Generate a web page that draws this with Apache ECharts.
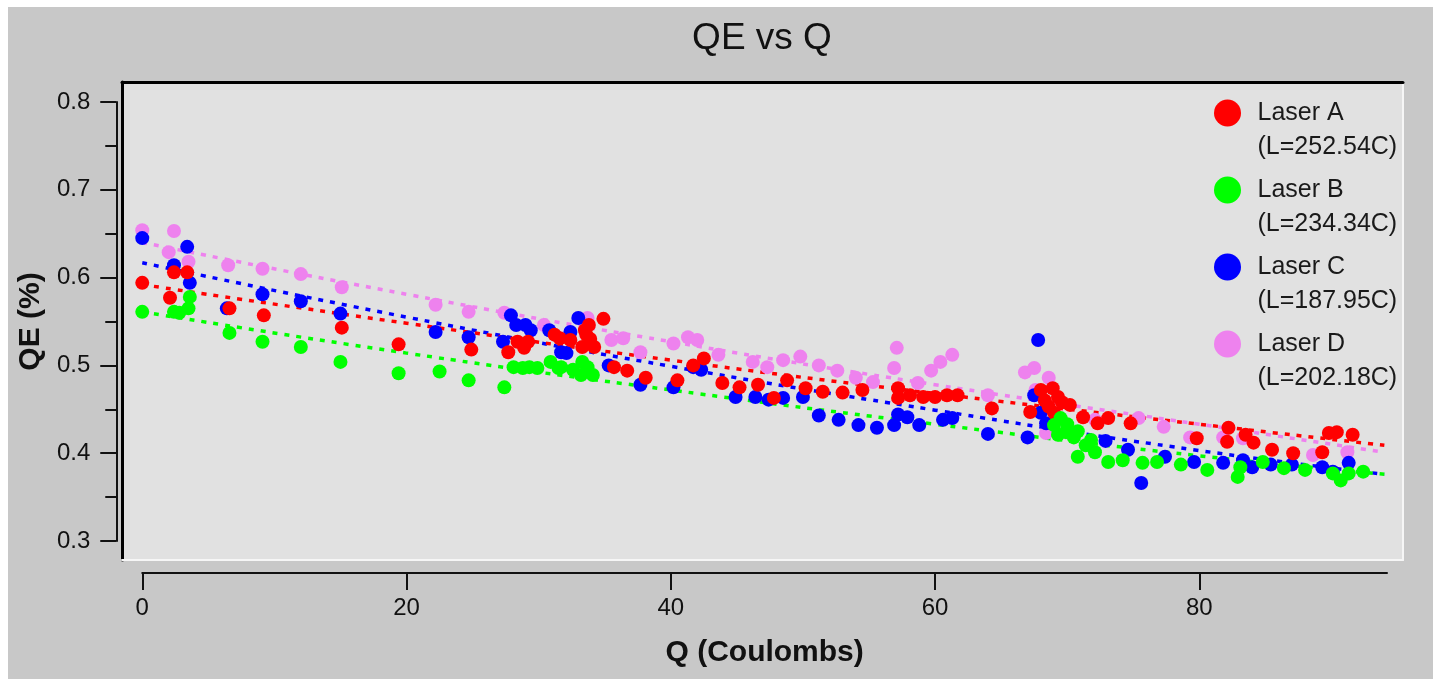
<!DOCTYPE html>
<html><head><meta charset="utf-8">
<script src="https://cdn.jsdelivr.net/npm/echarts@6/dist/echarts.min.js"></script>
<style>
html,body{margin:0;padding:0;background:#ffffff;width:1433px;height:679px;overflow:hidden}
#chart{position:absolute;left:8px;top:7px;width:1425px;height:672px;background:#c8c8c8}
</style>
</head><body><div id="chart"></div>
<script>
// ---- data ----
const seriesNames = ['Laser A', 'Laser B', 'Laser C', 'Laser D'];
const lifetimes = ['252.54', '234.34', '187.95', '202.18'];
const xTicks = [0, 20, 40, 60, 80];
const yTicks = [0.3, 0.4, 0.5, 0.6, 0.7, 0.8];

const laserA = [
  [0.0,0.594],[2.1,0.577],[2.4,0.606],[3.4,0.606],[6.6,0.565],[9.2,0.557],[15.1,0.543],[19.4,0.524],
  [24.9,0.518],[27.7,0.515],[28.4,0.527],[28.9,0.520],[29.2,0.527],[31.2,0.535],[31.6,0.531],[32.4,0.529],
  [33.3,0.521],[33.5,0.540],[33.6,0.535],[33.8,0.546],[33.9,0.530],[34.2,0.521],[34.9,0.553],[35.7,0.498],
  [36.7,0.494],[38.1,0.486],[40.5,0.483],[41.7,0.500],[42.5,0.508],[43.9,0.480],[45.2,0.475],[46.6,0.478],
  [47.8,0.463],[48.8,0.483],[50.2,0.474],[51.5,0.470],[53.0,0.469],[54.5,0.472],[57.2,0.474],[57.2,0.463],
  [58.1,0.466],[59.1,0.464],[60.0,0.464],[60.9,0.466],[61.7,0.466],[64.3,0.451],[67.2,0.447],[68.0,0.472],
  [68.3,0.460],[68.6,0.453],[68.9,0.474],[69.0,0.446],[69.3,0.464],[69.6,0.458],[70.2,0.455],[71.2,0.441],
  [72.3,0.434],[73.1,0.440],[74.8,0.434],[79.8,0.417],[82.1,0.413],[82.2,0.429],[83.5,0.421],[84.1,0.412],
  [85.5,0.404],[87.1,0.400],[89.3,0.401],[89.8,0.423],[90.4,0.424],[91.6,0.421]
];
const laserB = [
  [0.0,0.561],[2.4,0.561],[2.8,0.560],[3.5,0.565],[3.6,0.578],[6.6,0.537],[9.1,0.527],[12.0,0.521],
  [15.0,0.504],[19.4,0.491],[22.5,0.493],[24.7,0.483],[27.4,0.475],[28.1,0.498],[28.8,0.497],[29.3,0.498],
  [29.9,0.497],[30.9,0.504],[31.5,0.497],[31.7,0.498],[32.6,0.495],[33.2,0.489],[33.3,0.504],[33.7,0.498],
  [34.1,0.489],[69.0,0.432],[69.3,0.421],[69.5,0.440],[69.9,0.424],[70.0,0.433],[70.5,0.418],[70.8,0.425],
  [70.8,0.396],[71.4,0.409],[71.8,0.415],[72.1,0.401],[73.1,0.390],[74.2,0.392],[75.7,0.389],[76.8,0.390],
  [78.6,0.387],[80.6,0.381],[82.9,0.373],[83.1,0.384],[84.8,0.390],[86.4,0.383],[88.0,0.381],[90.1,0.377],
  [90.7,0.369],[91.3,0.377],[92.4,0.379]
];
const laserC = [
  [0.0,0.645],[2.4,0.614],[3.4,0.635],[3.6,0.594],[6.4,0.565],[9.1,0.581],[12.0,0.573],[15.0,0.559],
  [22.2,0.538],[24.7,0.532],[27.3,0.527],[27.9,0.557],[28.3,0.546],[29.0,0.546],[29.4,0.540],[30.8,0.540],
  [31.7,0.515],[32.1,0.514],[32.4,0.538],[33.0,0.554],[35.3,0.500],[37.7,0.478],[40.2,0.475],[41.7,0.498],
  [42.3,0.495],[44.9,0.464],[46.4,0.464],[47.4,0.461],[48.5,0.463],[50.0,0.464],[51.2,0.443],[52.7,0.438],
  [54.2,0.432],[55.6,0.429],[56.9,0.432],[57.2,0.444],[57.9,0.441],[58.8,0.432],[60.6,0.438],[61.3,0.440],
  [64.0,0.422],[67.0,0.418],[67.5,0.466],[67.8,0.529],[68.0,0.446],[68.4,0.434],[72.9,0.414],[74.6,0.404],
  [75.6,0.366],[77.4,0.396],[79.6,0.390],[81.8,0.389],[83.3,0.392],[84.0,0.384],[85.4,0.387],[87.0,0.387],
  [89.3,0.384],[90.1,0.379],[91.3,0.389]
];
const laserD = [
  [0.0,0.654],[2.0,0.629],[2.4,0.653],[3.5,0.618],[6.5,0.614],[9.1,0.610],[12.0,0.604],[15.1,0.589],
  [22.2,0.569],[24.7,0.561],[27.4,0.560],[30.4,0.546],[33.7,0.554],[35.5,0.529],[36.4,0.531],[37.7,0.515],
  [40.2,0.525],[41.3,0.532],[42.0,0.529],[43.6,0.512],[46.2,0.504],[47.3,0.498],[48.5,0.506],[49.8,0.510],
  [51.2,0.500],[52.6,0.494],[54.0,0.486],[55.3,0.481],[56.9,0.497],[57.1,0.520],[58.7,0.480],[59.7,0.494],
  [60.4,0.504],[61.3,0.512],[64.0,0.466],[66.8,0.492],[67.5,0.497],[67.6,0.472],[68.4,0.423],[68.6,0.486],
  [72.1,0.438],[75.4,0.440],[77.3,0.430],[79.3,0.418],[81.8,0.418],[83.3,0.417],[88.6,0.398],[91.2,0.401]
];

// dotted fit curves, values at these Q positions
const fitQ = [0, 20, 40, 60, 80, 94];
const fitA = [0.592, 0.548, 0.506, 0.468, 0.433, 0.409];
const fitB = [0.561, 0.514, 0.472, 0.433, 0.397, 0.376];
const fitC = [0.617, 0.555, 0.499, 0.449, 0.403, 0.376];
const fitD = [0.640, 0.581, 0.527, 0.478, 0.433, 0.401];

// ---- styling ----
const colors = ['#ff0000', '#00ff00', '#0000ff', '#ee82ee'];
const FONT = "'Liberation Sans', Arial, Helvetica, sans-serif";
const INK = '#111111';

const points = [laserA, laserB, laserC, laserD];
const fits = [fitA, fitB, fitC, fitD];
const drawOrder = [3, 2, 0, 1]; // pink under, green on top

const series = [];
drawOrder.forEach((i, k) => {
  series.push({
    type: 'scatter', name: seriesNames[i], xAxisIndex: 2, yAxisIndex: 2,
    data: points[i], symbol: 'circle', symbolSize: 14, clip: false,
    itemStyle: { color: colors[i], opacity: 1 }, z: 3, zlevel: 0
  });
});
drawOrder.forEach(i => {
  series.push({
    type: 'line', name: seriesNames[i], xAxisIndex: 2, yAxisIndex: 2,
    data: fitQ.map((q, k) => [q, fits[i][k]]), smooth: true, showSymbol: false, clip: false,
    lineStyle: { color: colors[i], width: 3.5, type: [5, 7], cap: 'butt' },
    itemStyle: { color: colors[i] }, z: 2
  });
});

const hiddenAxis = (pos, color, width) => ({
  type: 'value', gridIndex: 0, position: pos, min: 0, max: 1,
  axisLine: { show: true, onZero: false, lineStyle: { color: color, width: width } },
  axisTick: { show: false }, axisLabel: { show: false }, splitLine: { show: false }
});

const option = {
  animation: false,
  backgroundColor: '#c8c8c8',
  textStyle: { fontFamily: FONT },
  title: {
    text: 'QE vs Q', left: 754, top: 13, padding: 0, textAlign: 'center',
    textStyle: { fontFamily: FONT, fontSize: 37, fontWeight: 'normal', color: INK }
  },
  legend: {
    data: seriesNames, orient: 'vertical', left: 1206, top: 55, padding: 0,
    icon: 'circle', itemWidth: 50, itemHeight: 27, itemGap: -25, selectedMode: false,
    formatter: name => ' \n' + name + '\n(L=' + lifetimes[seriesNames.indexOf(name)] + 'C)',
    textStyle: { fontFamily: FONT, fontSize: 25, lineHeight: 34, color: '#1a1a1a' }
  },
  grid: [
    { left: 114, top: 75, width: 1281, height: 478, show: true, backgroundColor: '#e1e1e1', borderWidth: 0 },
    { left: 133, top: 95, width: 1246, height: 439, show: false }
  ],
  xAxis: [
    hiddenAxis('top', '#000000', 3),
    hiddenAxis('bottom', '#f6f6f6', 2),
    {
      type: 'value', gridIndex: 1, position: 'bottom', offset: 32, min: 0, max: 94.2,
      name: 'Q (Coulombs)', nameLocation: 'middle', nameGap: 65,
      nameTextStyle: { fontFamily: FONT, fontSize: 30, fontWeight: 'bold', color: INK },
      axisLine: { show: true, onZero: false, lineStyle: { color: INK, width: 2 } },
      axisTick: { show: true, inside: false, length: 17, customValues: xTicks, lineStyle: { color: INK, width: 2 } },
      axisLabel: { show: true, margin: 23, customValues: xTicks, fontFamily: FONT, fontSize: 24, color: INK },
      splitLine: { show: false }
    }
  ],
  yAxis: [
    hiddenAxis('left', '#000000', 3),
    hiddenAxis('right', '#f6f6f6', 2),
    {
      type: 'value', gridIndex: 1, position: 'left', offset: 26, min: 0.3, max: 0.8, interval: 0.1,
      name: 'QE (%)', nameLocation: 'middle', nameGap: 70,
      nameTextStyle: { fontFamily: FONT, fontSize: 30, fontWeight: 'bold', color: INK },
      axisLine: { show: true, onZero: false, lineStyle: { color: INK, width: 2 } },
      axisTick: { show: true, inside: false, length: 16, lineStyle: { color: INK, width: 2 } },
      minorTick: { show: true, splitNumber: 2, length: 11, lineStyle: { color: INK, width: 2 } },
      axisLabel: { show: true, margin: 26, customValues: yTicks, formatter: v => Number(v).toFixed(1), fontFamily: FONT, fontSize: 24, color: INK },
      splitLine: { show: false }, minorSplitLine: { show: false }
    }
  ],
  series: series
};

const chart = echarts.init(document.getElementById('chart'), null, { renderer: 'canvas' });
chart.setOption(option);
</script>
</body></html>
